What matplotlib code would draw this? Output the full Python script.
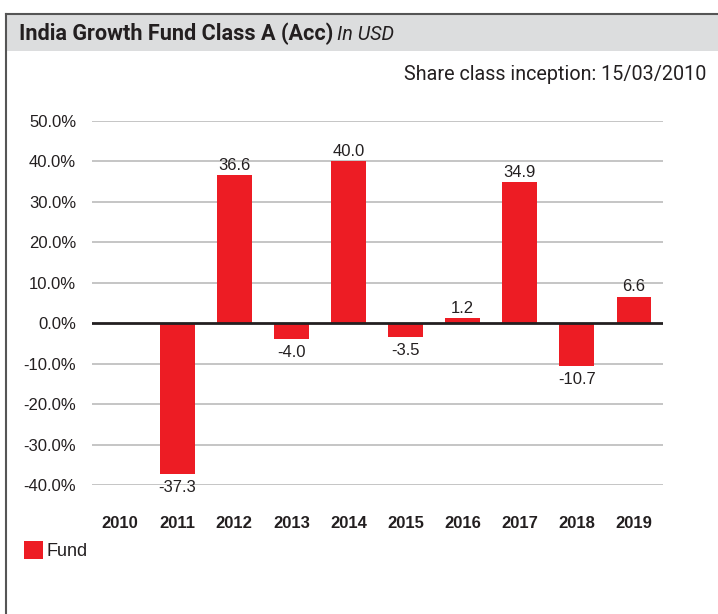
import matplotlib
matplotlib.use("Agg")
import matplotlib.pyplot as plt
from matplotlib.patches import Rectangle
import numpy as np

years = ["2010", "2011", "2012", "2013", "2014", "2015", "2016", "2017", "2018", "2019"]
fund = [np.nan, -37.3, 36.6, -4.0, 40.0, -3.5, 1.2, 34.9, -10.7, 6.6]
yticks = [-40, -30, -20, -10, 0, 10, 20, 30, 40, 50]

RED = "#ED1C24"
TXT = "#231F20"
W, H = 718, 614
fig = plt.figure(figsize=(W / 100, H / 100), dpi=100)

head = ["Roboto", "DejaVu Sans"]
sans = ["Liberation Sans", "DejaVu Sans"]

# frame and header
fig.patches.append(Rectangle((6 / W, 1 - 51 / H), 1, 37 / H, transform=fig.transFigure,
                             facecolor="#DCDDDE", edgecolor="none", zorder=0))
fig.add_artist(plt.Line2D([6 / W, 1], [1 - 14 / H] * 2, color="#555555", lw=1.5, transform=fig.transFigure))
fig.add_artist(plt.Line2D([6 / W] * 2, [0, 1 - 14 / H], color="#555555", lw=1.5, transform=fig.transFigure))

t1 = fig.text(19 / W, 1 - 34 / H, "India Growth Fund Class A (Acc) ", family=head, weight="bold",
              fontsize=15.6, color=TXT, va="center", ha="left")
fig.canvas.draw()
bb = t1.get_window_extent()
fig.text(bb.x1 / W - 2 / W, 1 - 34 / H, "In USD", family=head, style="italic",
         fontsize=14.2, color=TXT, va="center", ha="left")
fig.text(706 / W, 1 - 74 / H, "Share class inception: 15/03/2010", family=head,
         fontsize=14.2, color=TXT, va="center", ha="right")

ax = fig.add_axes([91.5 / W, 1 - 485 / H, (662.5 - 91.5) / W, (485 - 121) / H])
x = np.arange(len(years))
bars = ax.bar(x, fund, width=0.61, color=RED, zorder=3)
ax.set_xlim(-0.5, len(years) - 0.5)
ax.set_ylim(-40, 50)
ax.set_yticks(yticks)
ax.set_yticklabels([f"{v:.1f}%" for v in yticks], family=sans, fontsize=12, color=TXT)
ax.set_xticks(x)
ax.set_xticklabels(years, family=sans, weight="bold", fontsize=12, color=TXT)
ax.tick_params(axis="both", length=0)
ax.tick_params(axis="y", pad=11)
ax.tick_params(axis="x", pad=22)
for s in ax.spines.values():
    s.set_visible(False)
for v in yticks:
    if v != 0:
        ax.axhline(v, color="#BBBBBB", lw=1.2, zorder=1)
ax.axhline(0, color=TXT, lw=2, zorder=4)

for xi, v in zip(x, fund):
    if np.isnan(v):
        continue
    if v >= 0:
        ax.annotate(f"{v:.1f}", (xi, v), xytext=(0, 1.5), textcoords="offset points",
                    ha="center", va="bottom", family=sans, fontsize=12, color=TXT)
    else:
        ax.annotate(f"{v:.1f}", (xi, v), xytext=(0, -4), textcoords="offset points",
                    ha="center", va="top", family=sans, fontsize=12, color=TXT)

# legend
fig.patches.append(Rectangle((24 / W, 1 - 559 / H), 19 / W, 18 / H, transform=fig.transFigure,
                             facecolor=RED, edgecolor="none"))
fig.text(46 / W, 1 - 551 / H, "Fund", family=sans, fontsize=13, color=TXT,
         va="center", ha="left")

fig.savefig("out.png", dpi=100)
